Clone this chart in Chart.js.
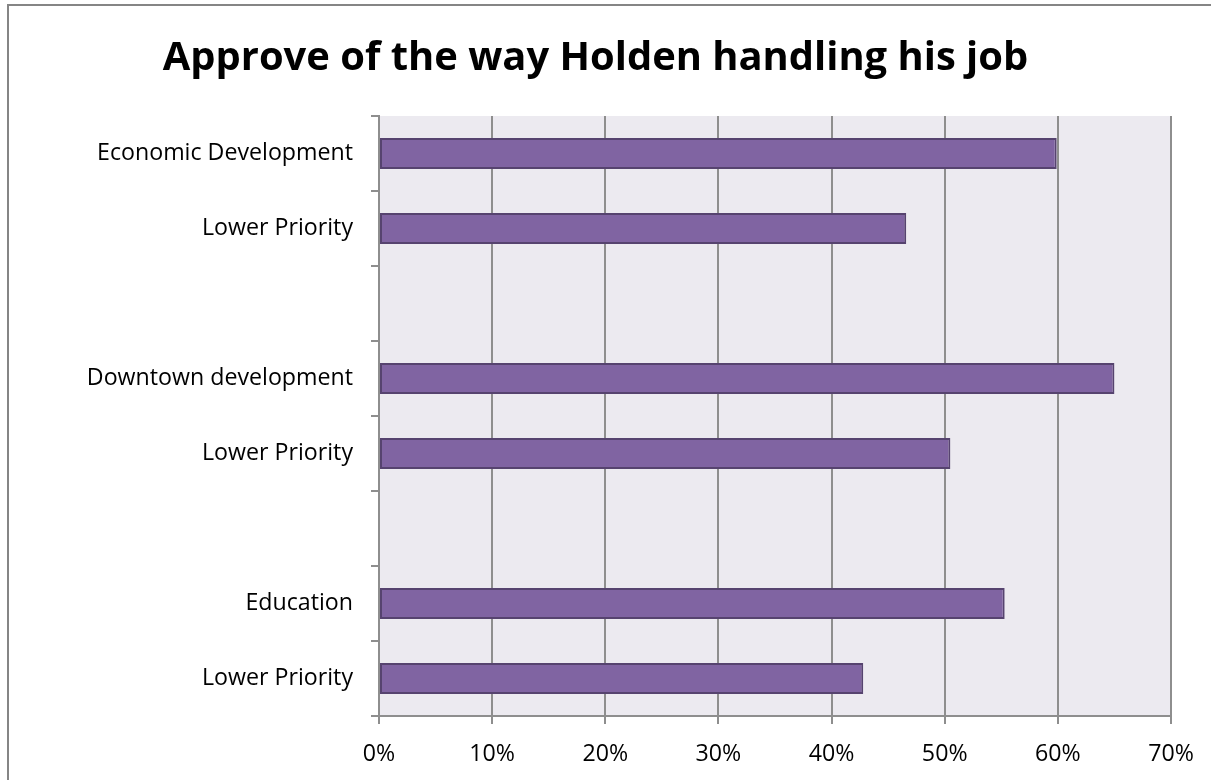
<!DOCTYPE html>
<html>
<head>
<meta charset="utf-8">
<script src="https://cdn.jsdelivr.net/npm/chart.js@4.4.1/dist/chart.umd.min.js"></script>
<style>
  html, body { margin: 0; padding: 0; background: #ffffff; }
  #wrap { position: absolute; left: 0; top: 0; width: 1211px; height: 780px; }
</style>
</head>
<body>
<div id="wrap"><canvas id="c" width="1211" height="780"></canvas></div>
<script>
// ---- data ----
const categories = [
  'Economic Development', 'Lower Priority', '',
  'Downtown development', 'Lower Priority', '',
  'Education', 'Lower Priority'
];
const approveValues = [59.9, 46.6, null, 65.0, 50.5, null, 55.3, 42.8];
const xTickMin = 0;
const xTickMax = 70;
const xTickStep = 10;
const chartTitle = 'Approve of the way Holden handling his job';

// ---- font sizing helpers (style only) ----
const FAMILY = '"Open Sans", "DejaVu Sans", sans-serif';
function fitSize(text, weight, targetWidth) {
  const ctx = document.createElement('canvas').getContext('2d');
  ctx.font = weight + ' 100px ' + FAMILY;
  const w = ctx.measureText(text).width;
  return Math.round(100 * targetWidth / w * 10) / 10;
}

function build() {
  const titleSize = fitSize(chartTitle, 'bold', 866);
  const tickSize = fitSize('Economic Development', 'normal', 256);
  const titleTop = 58.5 - 0.6 * titleSize;
  const titleBottom = 116 - titleTop - 1.2 * titleSize;

  const framePlugin = {
    id: 'frame',
    beforeDraw(chart) {
      const { ctx, chartArea } = chart;
      ctx.save();
      ctx.fillStyle = '#ECEAF0';
      ctx.fillRect(chartArea.left, chartArea.top, chartArea.right - chartArea.left, chartArea.bottom - chartArea.top);
      ctx.strokeStyle = '#858585';
      ctx.lineWidth = 2;
      ctx.beginPath();
      ctx.moveTo(8, 780);
      ctx.lineTo(8, 5);
      ctx.lineTo(1211, 5);
      ctx.stroke();
      ctx.restore();
    }
  };

  new Chart(document.getElementById('c'), {
    type: 'bar',
    data: {
      labels: categories,
      datasets: [{
        label: 'Approve',
        data: approveValues,
        backgroundColor: '#8064A2',
        borderColor: '#56436F',
        borderWidth: 2,
        borderSkipped: false,
        categoryPercentage: 1.0,
        barPercentage: 0.413
      }]
    },
    options: {
      indexAxis: 'y',
      responsive: false,
      animation: false,
      events: [],
      layout: { padding: { left: 20, right: 40, top: 0, bottom: 0 } },
      plugins: {
        legend: { display: false },
        tooltip: { enabled: false },
        title: {
          display: true,
          text: chartTitle,
          color: '#000000',
          font: { family: FAMILY, weight: 'bold', size: titleSize, lineHeight: 1.2 },
          padding: { top: titleTop, bottom: titleBottom }
        }
      },
      scales: {
        x: {
          type: 'linear',
          min: xTickMin,
          max: xTickMax,
          afterFit(scale) { scale.height = 64; },
          border: { display: true, color: '#8E8E8E', width: 2 },
          grid: {
            display: true,
            drawOnChartArea: true,
            drawTicks: true,
            tickLength: 8,
            color: '#8E8E8E',
            lineWidth: 2
          },
          ticks: {
            stepSize: xTickStep,
            color: '#000000',
            padding: 16,
            font: { family: FAMILY, size: tickSize },
            callback: (v) => v + '%'
          }
        },
        y: {
          type: 'category',
          offset: true,
          afterFit(scale) { scale.width = 359; },
          border: { display: true, color: '#8E8E8E', width: 2 },
          grid: {
            display: true,
            offset: true,
            drawOnChartArea: false,
            drawTicks: true,
            tickLength: 8,
            color: '#8E8E8E',
            lineWidth: 2
          },
          ticks: {
            color: '#000000',
            padding: 18,
            autoSkip: false,
            font: { family: FAMILY, size: tickSize }
          }
        }
      }
    },
    plugins: [framePlugin]
  });
}

if (document.fonts && document.fonts.load) {
  Promise.all([
    document.fonts.load('bold 40px "Open Sans"'),
    document.fonts.load('20px "Open Sans"')
  ]).then(build, build);
} else {
  build();
}
</script>
</body>
</html>
